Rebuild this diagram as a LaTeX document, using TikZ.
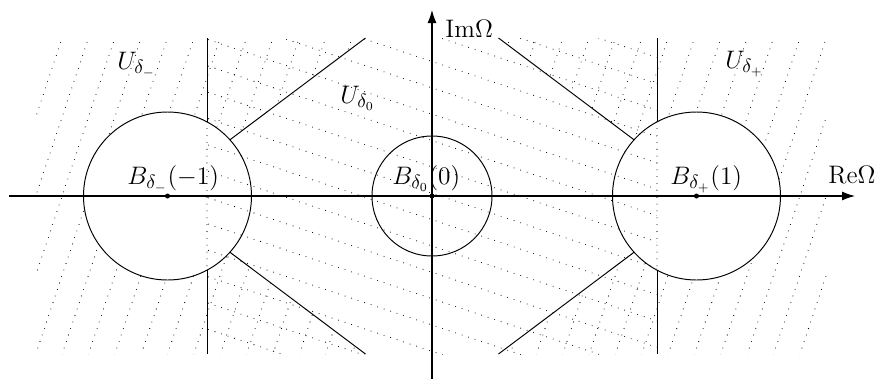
\documentclass[tikz,border=0pt]{standalone}
\usepackage{amsmath}
\usepackage{amssymb}
\usepackage{xcolor}
\usepackage{tikz}
\usetikzlibrary{arrows.meta, positioning, calc}

\tikzset{
  ball/.style={circle, draw, inner sep=0pt, outer sep=0pt, minimum size=#1},
  hatch/.style={line width=0.6pt, line cap=round, dash pattern=on 0pt off 3.9pt},
  centre/.style={circle, fill, inner sep=0pt, minimum size=1mm},
  lbl/.style={font=\fontsize{15}{18}\selectfont, inner sep=0pt, anchor=base west},
  axis/.style={line width=0.6pt, -{Latex[length=2.6mm, width=1.8mm]}}
}

\begin{document}
\begin{tikzpicture}[line width=0.55pt]
\useasboundingbox (-8.64,-3.66) rectangle (8.96,3.92);

% === Centres ===
\coordinate (cm) at (-5.29,0);
\coordinate (c0) at (0,0);
\coordinate (cp) at (5.29,0);

% === Hatching of U_{delta_-} ===
\begin{scope}
  \clip (-7.92,3.16) -- (-1.33,3.16) -- ($(cm)+(42:1.68)$)
        arc[start angle=42, end angle=318, radius=1.68]
        -- (-1.33,-3.16) -- (-7.92,-3.16) -- cycle;
  \foreach \k [evaluate=\k as \xk using -6.87+0.527*\k] in {-4,...,13}
    \draw[hatch] (\xk-1.1,-3.3) -- (\xk+1.1,3.3);
\end{scope}

% === Hatching of U_{delta_+} ===
\begin{scope}
  \clip (7.9,3.16) -- (1.33,3.16) -- ($(cp)+(138:1.68)$)
        arc[start angle=138, end angle=-138, radius=1.68]
        -- (1.33,-3.16) -- (7.9,-3.16) -- cycle;
  \foreach \k [evaluate=\k as \xk using -6.87+0.527*\k] in {12,...,31}
    \draw[hatch] (\xk-1.1,-3.3) -- (\xk+1.1,3.3);
\end{scope}

% === Hatching of U_{delta_0} ===
\begin{scope}
  \clip (-4.5,-3.16) rectangle (4.5,3.16);
  \foreach \k [evaluate=\k as \yk using 0.055+0.527*\k] in {-9,...,9}
    \draw[hatch] (-4.6,\yk+1.533) -- (4.6,\yk-1.533);
\end{scope}

% === Balls ===
\node[ball=3.36cm] (Bm) at (cm) {};
\node[ball=2.4cm]  (B0) at (c0) {};
\node[ball=3.36cm] (Bp) at (cp) {};

% === Vertical borders of U_{delta_0} ===
\coordinate (vlt) at (-4.5,3.16);
\coordinate (vlu) at (-4.5,1.483);
\coordinate (vld) at (-4.5,-1.483);
\coordinate (vlb) at (-4.5,-3.16);
\draw (vlt) -- (vlu);
\draw[hatch] (vlu) -- (vld);
\draw (vld) -- (vlb);

\coordinate (vrt) at (4.5,3.16);
\coordinate (vru) at (4.5,1.483);
\coordinate (vrd) at (4.5,-1.483);
\coordinate (vrb) at (4.5,-3.16);
\draw (vrt) -- (vru);
\draw[hatch] (vru) -- (vrd);
\draw (vrd) -- (vrb);

% === Slanted borders of U_{delta_-} and U_{delta_+} ===
\coordinate (dlt) at (-1.33,3.16);
\coordinate (dlb) at (-1.33,-3.16);
\coordinate (drt) at (1.33,3.16);
\coordinate (drb) at (1.33,-3.16);
\draw (Bm.42) -- (dlt);
\draw (Bm.-42) -- (dlb);
\draw (Bp.138) -- (drt);
\draw (Bp.-138) -- (drb);

% === Axes ===
\coordinate (xl) at (-8.46,0);
\coordinate (xr) at (8.46,0);
\coordinate (yb) at (0,-3.66);
\coordinate (yt) at (0,3.72);
\draw[axis] (xl) -- (xr);
\draw[axis] (yb) -- (yt);

\node[centre] (dm) at (cm) {};
\node[centre] (d0) at (c0) {};
\node[centre] (dp) at (cp) {};

% === Labels ===
\node[lbl] (im) at (0.26,3.18) {$\mathrm{Im}\Omega$};
\node[lbl] (re) at (7.92,0.26) {$\mathrm{Re}\Omega$};
\node[lbl] (lbm) at (-6.1,0.24) {$B_{\delta_-}(-1)$};
\node[lbl] (lb0) at (-0.8,0.24) {$B_{\delta_0}(0)$};
\node[lbl] (lbp) at (4.76,0.24) {$B_{\delta_+}(1)$};
\node[lbl] (um) at (-6.3,2.54) {$U_{\delta_-}$};
\node[lbl] (u0) at (-1.84,1.86) {$U_{\delta_0}$};
\node[lbl] (up) at (5.86,2.56) {$U_{\delta_+}$};

\end{tikzpicture}
\end{document}
